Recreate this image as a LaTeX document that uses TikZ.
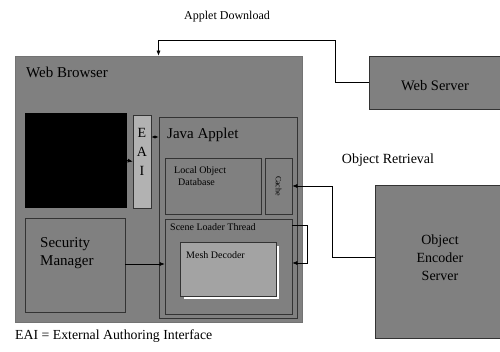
\documentclass[tikz,border=0pt]{standalone}
\usepackage{fontspec}
\setmainfont{Liberation Serif}
\usetikzlibrary{arrows.meta}
\definecolor{halftone}{gray}{0.5}
\definecolor{halflight}{gray}{0.7}
\tikzset{
	blk/.style={draw=black!80, fill=halftone, inner sep=0pt, line width=0.6pt},
	lbl/.style={anchor=north west, inner sep=0pt, align=left},
	conn/.style={line width=0.6pt, -{Latex[length=5pt,width=4pt]}}
}
\begin{document}
\begin{tikzpicture}[x=1pt, y=-1pt, font=\fontsize{12}{14}\selectfont]
\useasboundingbox (0,0) rectangle (500,352);

% Servidores
\node[blk, minimum width=131, minimum height=53] (WS) at (434.5,82.5) {};
\node[inner sep=0pt, font=\fontsize{14.5}{16}\selectfont] (WSt) at (435,86) {Web Server};
\node[blk, minimum width=125, minimum height=153] (OE) at (437.5,261.5) {};
\node[inner sep=0pt, align=center, font=\fontsize{14}{18}\selectfont] (OEt) at (440,258) {Object\\Encoder\\Server};

% Navegador
\node[blk, draw=black!55, minimum width=287, minimum height=266] (WB) at (158.5,189) {};
\node[lbl, font=\fontsize{15}{17}\selectfont] (WBt) at (26,67) {Web Browser};
\node[fill=black, inner sep=0pt, minimum width=102, minimum height=95] (BX) at (76,160.5) {};
\node[blk, fill=halflight, minimum width=18, minimum height=93] (EA) at (142,161.5) {};
	\foreach \l [count=\i] in {E,A,I}
		\node[inner sep=0pt, font=\fontsize{14}{16}\selectfont] (EA\i) at (142,114+19*\i) {\l};

\node[blk, minimum width=100, minimum height=94] (SM) at (75,265) {};
\node[lbl, font=\fontsize{15}{18}\selectfont] (SMt) at (40,237) {Security\\Manager};

% Applet
\node[blk, minimum width=138, minimum height=201] (JA) at (228,217.5) {};
\node[lbl, font=\fontsize{15}{17}\selectfont] (JAt) at (167,128) {Java Applet};
\node[blk, minimum width=96, minimum height=56] (LO) at (213,186) {};
\node[lbl, font=\fontsize{10}{12}\selectfont] (LOt) at (174,166) {Local Object\\\hspace{4pt}Database};
\node[blk, minimum width=27, minimum height=56] (CA) at (278.5,186) {};
\node[rotate=-90, inner sep=0pt, font=\fontsize{8}{10}\selectfont] (CAt) at (278.5,186) {Cache};
\node[blk, minimum width=127, minimum height=95] (SG) at (228.5,266.5) {};
\node[lbl, font=\fontsize{10}{12}\selectfont] (SGt) at (170,223) {Scene Loader Thread};
\fill[white] (184,246) rectangle (279,299);
\node[blk, fill=halflight!70!halftone, minimum width=96, minimum height=54] (MD) at (228,269) {};
\node[lbl, font=\fontsize{10}{12}\selectfont] (MDt) at (186,251) {Mesh Decoder};

% Conexiones
\coordinate (up) at (335,40);
\coordinate (rt) at (332,186);
\draw[conn] (WS.west) -| (up) -| (WB.north);
\node[inner sep=0pt] (ADt) at (227,17) {Applet Download};
\draw[conn] ([yshift=4.5pt]OE.west) -| (rt) -- (CA.east);
\node[inner sep=0pt, font=\fontsize{14}{16}\selectfont] (ORt) at (388,160) {Object Retrieval};
\draw[conn] ([yshift=41.5pt]SG.east) -- ++(15,0) |- ([yshift=3.5pt]SG.east);
\draw[conn] ([yshift=1pt]SM.east) -- ([yshift=1pt]SM.east -| SG.west);
\draw[conn] (BX.east) -- (EA.west);
\draw[conn, {Latex[length=4pt,width=3pt]}-{Latex[length=4pt,width=3pt]}] ([yshift=24.5pt]EA.east) -- ([yshift=24.5pt]EA.east -| JA.west);

\node[lbl, font=\fontsize{13.8}{15}\selectfont] (KEY) at (15,330) {EAI = External Authoring Interface};
\end{tikzpicture}
\end{document}
